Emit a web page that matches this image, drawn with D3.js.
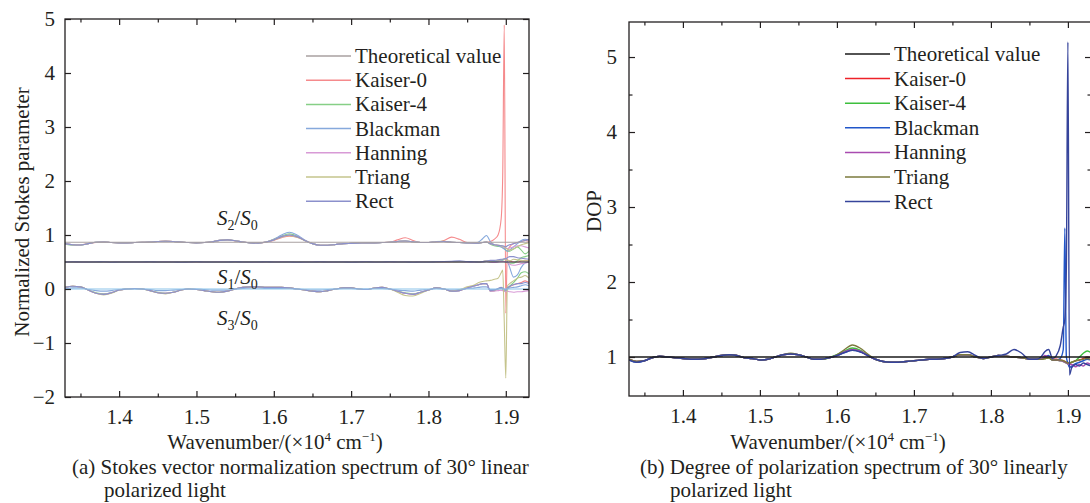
<!DOCTYPE html>
<html>
<head>
<meta charset="utf-8">
<title>Stokes normalization and DOP spectra</title>
<script src="https://cdnjs.cloudflare.com/ajax/libs/d3/7.8.5/d3.min.js"></script>
<style>
  body { margin: 0; background: #fff; }
  svg text { font-family: "Liberation Serif", "Times New Roman", serif; fill: #231f20; }
</style>
</head>
<body>
<svg id="chart" width="1090" height="503"></svg>
<script>
// wavenumber grid (x10^4 cm^-1), denser near the 1.9 resonance
var wn = [1.33,1.34,1.35,1.36,1.37,1.38,1.39,1.40,1.41,1.42,1.43,1.44,1.45,1.46,1.47,1.48,1.49,1.50,1.51,1.52,1.53,1.54,1.55,1.56,1.57,1.58,1.59,1.60,1.61,1.62,1.63,1.64,1.65,1.66,1.67,1.68,1.69,1.70,1.71,1.72,1.73,1.74,1.75,1.76,1.77,1.78,1.79,1.80,1.81,1.82,1.83,1.84,1.85,1.86,
  1.865,1.87,1.875,1.88,1.885,1.89,1.894,1.896,1.898,1.90,1.902,1.905,1.91,1.915,1.92,1.925,1.93];

var seriesNames = ["Theoretical value", "Kaiser-0", "Kaiser-4", "Blackman", "Hanning", "Triang", "Rect"];
var xTicks = [1.4, 1.5, 1.6, 1.7, 1.8, 1.9];
var xMinor = [1.35, 1.45, 1.55, 1.65, 1.75, 1.85];
var yTicksA = [-2, -1, 0, 1, 2, 3, 4, 5];
var yTicksB = [1, 2, 3, 4, 5];
var yMinorB = [1.5, 2.5, 3.5, 4.5];

// theoretical values for 30 deg linear polarization
var theoS1 = 0.5, theoS2 = 0.866, theoS3 = 0, theoDOP = 1;

// S2/S0
var s2Kaiser0 = [.84,.82,.82,.84,.86,.87,.86,.855,.855,.86, .865,.87,.88,.89,.88,.87,.86,.855,.86,.875, .90,.91,.89,.87,.855,.85,.87,.90,.95,.98, .96,.90,.84,.81,.81,.825,.84,.845,.85,.855, .855,.86,.87,.91,.95,.90,.86,.86,.87,.90, .96,.92,.86,.85,
  .85,.86,.86,.88,.92,1.0,1.3,2.1,4.89,-0.45,.70,.78,.84,.86,.88,.90,.88];
var s2Kaiser4 = [.83,.81,.81,.84,.865,.87,.86,.855,.855,.86, .865,.87,.88,.885,.88,.87,.86,.855,.86,.875, .90,.91,.895,.87,.855,.85,.87,.92,.98,1.02, .98,.90,.84,.81,.81,.825,.84,.845,.85,.855, .855,.86,.865,.88,.89,.875,.86,.86,.88,.885, .865,.86,.855,.85,
  .85,.86,.87,.83,.80,.79,.78,.77,.75,.72,.70,.70,.74,.78,.72,.65,.70];
var s2Blackman = [.84,.82,.815,.84,.865,.87,.86,.855,.855,.86, .865,.87,.88,.885,.88,.87,.86,.855,.86,.875, .90,.91,.895,.87,.855,.85,.87,.92,1.0,1.05, 1.0,.91,.84,.81,.81,.825,.84,.845,.85,.855, .855,.86,.865,.88,.89,.875,.86,.86,.875,.88, .865,.86,.855,.85,
  .87,.93,.99,.88,.82,.80,.78,.76,.74,.72,.70,.72,.78,.84,.90,.92,.90];
var s2Hanning = [.84,.82,.815,.84,.865,.87,.86,.855,.855,.86, .865,.87,.88,.885,.88,.87,.86,.855,.86,.875, .90,.91,.895,.87,.855,.85,.87,.91,.97,1.0, .97,.90,.84,.81,.81,.825,.84,.845,.85,.855, .855,.86,.865,.88,.89,.875,.86,.86,.875,.88, .865,.86,.855,.85,
  .85,.86,.87,.84,.82,.81,.80,.78,.77,.76,.75,.76,.78,.80,.80,.78,.76];
var s2Triang = [.84,.82,.815,.84,.865,.87,.86,.855,.855,.86, .865,.87,.88,.885,.88,.87,.86,.855,.86,.875, .90,.91,.895,.87,.855,.85,.87,.91,.96,.99, .96,.90,.84,.81,.81,.825,.84,.845,.85,.855, .855,.86,.865,.88,.89,.875,.86,.86,.875,.88, .865,.86,.855,.85,
  .85,.86,.87,.84,.82,.81,.80,.79,.78,.76,.74,.72,.74,.78,.82,.84,.86];
var s2Rect = [.84,.82,.815,.84,.865,.87,.86,.855,.855,.86, .865,.87,.88,.885,.88,.87,.86,.855,.86,.875, .90,.91,.895,.87,.855,.85,.87,.91,.97,1.0, .97,.90,.84,.81,.81,.825,.84,.845,.85,.855, .855,.86,.865,.88,.89,.875,.86,.86,.875,.88, .865,.86,.855,.85,
  .85,.86,.87,.84,.82,.81,.80,.80,.79,.78,.80,.82,.84,.86,.88,.90,.92];

// S1/S0
var s1Kaiser0 = [.50,.50,.505,.50,.50,.495,.50,.50,.50,.505, .50,.50,.495,.50,.50,.50,.505,.50,.50,.50, .50,.505,.50,.50,.495,.50,.50,.50,.505,.51, .505,.50,.50,.495,.50,.50,.50,.50,.505,.50, .50,.50,.50,.505,.51,.505,.50,.50,.50,.505, .51,.51,.505,.50,
  .50,.51,.52,.51,.50,.52,.53,.54,.55,.55,.54,.52,.50,.50,.52,.53,.52];
var s1Kaiser4 = [.50,.495,.50,.50,.505,.50,.50,.495,.50,.50, .505,.50,.50,.50,.495,.50,.50,.50,.505,.50, .50,.50,.495,.50,.50,.505,.50,.50,.50,.505, .50,.50,.495,.50,.50,.50,.505,.50,.50,.50, .495,.50,.50,.50,.505,.50,.50,.495,.50,.50, .505,.50,.50,.50,
  .50,.50,.51,.50,.50,.51,.52,.52,.51,.50,.49,.48,.48,.52,.58,.60,.62];
var s1Blackman = [.50,.50,.50,.495,.50,.50,.505,.50,.50,.50, .50,.495,.50,.50,.50,.505,.50,.50,.50,.495, .50,.50,.50,.505,.50,.50,.495,.50,.50,.50, .505,.50,.50,.50,.495,.50,.50,.505,.50,.50, .50,.495,.50,.50,.50,.505,.50,.50,.50,.50, .505,.51,.505,.50,
  .50,.51,.52,.52,.51,.52,.53,.54,.55,.56,.52,.40,.22,.26,.40,.48,.50];
var s1Hanning = [.50,.50,.495,.50,.50,.50,.50,.505,.50,.50, .495,.50,.50,.505,.50,.50,.50,.495,.50,.50, .505,.50,.50,.50,.50,.495,.50,.50,.505,.50, .50,.50,.505,.50,.50,.495,.50,.50,.50,.505, .50,.50,.495,.50,.50,.50,.505,.50,.50,.495, .50,.50,.50,.50,
  .50,.50,.51,.50,.49,.50,.51,.51,.51,.50,.50,.46,.44,.45,.47,.48,.50];
var s1Triang = [.505,.50,.50,.50,.495,.50,.50,.50,.505,.50, .50,.50,.50,.495,.50,.50,.505,.50,.50,.50, .495,.50,.50,.50,.505,.50,.50,.50,.495,.50, .50,.505,.50,.50,.50,.50,.495,.50,.50,.50, .505,.50,.50,.50,.495,.50,.50,.505,.50,.50, .50,.505,.51,.51,
  .50,.51,.52,.52,.52,.53,.54,.55,.55,.54,.53,.52,.55,.54,.53,.52,.52];
var s1Rect = [.50,.505,.50,.50,.50,.505,.495,.50,.50,.50, .50,.505,.50,.50,.50,.495,.50,.505,.50,.50, .50,.50,.505,.50,.50,.50,.505,.50,.50,.50, .495,.50,.50,.505,.50,.50,.50,.495,.50,.505, .50,.50,.505,.50,.50,.495,.50,.50,.505,.51, .515,.52,.51,.505,
  .50,.51,.52,.53,.53,.54,.55,.55,.56,.56,.58,.60,.60,.58,.57,.56,.55];

// S3/S0
var s3Kaiser0 = [.03,.05,.04,-.02,-.08,-.10,-.07,-.02,0,.01, 0,-.03,-.07,-.08,-.06,-.02,0,-.01,-.03,-.05, -.06,-.04,0,.03,.04,.04,.03,.03,.03,.02, 0,-.02,-.04,-.05,-.03,0,.02,.02,0,-.01, .02,.03,0,-.04,-.08,-.10,-.06,-.02,.02,0, -.04,-.03,.02,.06,
  .08,.10,.10,-.04,-.03,0,.02,0,-.03,-.05,0,.04,.08,.10,.12,.15,.12];
var s3Kaiser4 = [.03,.05,.04,-.02,-.07,-.09,-.07,-.02,0,.01, 0,-.03,-.06,-.08,-.06,-.02,0,-.01,-.03,-.05, -.06,-.04,0,.03,.04,.04,.03,.03,.03,.02, 0,-.02,-.04,-.05,-.03,0,.02,.02,0,-.01, .02,.03,0,-.04,-.07,-.09,-.06,-.02,.02,0, -.04,-.03,.02,.06,
  .08,.10,.10,-.04,-.03,0,.02,0,-.03,-.05,0,.05,.12,.20,.30,.32,.28];
var s3Blackman = [.01,.02,.02,-.01,-.03,-.04,-.03,-.01,0,0, 0,-.01,-.03,-.03,-.02,-.01,0,0,-.01,-.02, -.02,-.02,0,.01,.02,.02,.01,.01,.01,.01, 0,-.01,-.02,-.02,-.01,0,.01,.01,0,0, .01,.01,0,-.02,-.03,-.04,-.02,-.01,.01,0, -.02,-.01,.01,.02,
  .03,.04,.04,-.01,-.01,0,.01,0,-.01,-.02,0,.02,.03,.04,.06,.08,.06];
var s3Hanning = [.03,.05,.04,-.02,-.08,-.10,-.07,-.02,0,.01, 0,-.03,-.07,-.08,-.06,-.02,0,-.01,-.03,-.05, -.06,-.04,0,.03,.04,.04,.03,.03,.03,.02, 0,-.02,-.04,-.05,-.03,0,.02,.02,0,-.01, .02,.03,0,-.04,-.08,-.10,-.06,-.02,.02,0, -.04,-.03,.02,.06,
  .08,.10,.10,-.04,-.04,-.03,-.02,-.03,-.04,-.05,-.04,-.05,-.06,-.05,-.05,-.04,-.03];
var s3Triang = [.04,.05,.04,-.02,-.08,-.11,-.08,-.02,0,.01, 0,-.03,-.07,-.09,-.06,-.02,0,-.01,-.03,-.05, -.06,-.04,0,.03,.04,.04,.03,.03,.03,.02, 0,-.02,-.04,-.05,-.03,0,.02,.02,0,-.01, .02,.03,0,-.06,-.12,-.13,-.08,-.02,.02,0, -.04,-.02,.04,.08,
  .12,.14,.15,.16,.18,.20,.30,.35,-.60,-1.65,.05,.10,.15,.20,.22,.25,.20];
var s3Rect = [.03,.05,.04,-.02,-.08,-.10,-.07,-.02,0,.01, 0,-.03,-.07,-.08,-.06,-.02,0,-.01,-.03,-.05, -.06,-.04,0,.03,.04,.04,.03,.03,.03,.02, 0,-.02,-.04,-.05,-.03,0,.02,.02,0,-.01, .02,.03,0,-.04,-.08,-.10,-.06,-.02,.02,0, -.04,-.03,.02,.06,
  .08,.10,.10,-.03,-.02,.01,.03,.02,0,-.02,.02,.05,.08,.10,.10,.12,.10];

// DOP
var dopKaiser0 = [.97,.94,.95,.99,1.01,1.0,.99,.98,.97,.97, .98,1.0,1.02,1.03,1.02,.99,.98,.96,.97,1.0, 1.03,1.04,1.03,1.0,.97,.97,.99,1.02,1.07,1.1, 1.08,1.02,.97,.94,.93,.93,.94,.95,.96,.97, .97,.98,1.0,1.03,1.03,1.0,.98,1.0,1.02,1.01, 1.0,.99,.97,.97,
  .97,.98,.99,.97,.97,.96,.95,.94,.93,.92,.92,.93,.95,.96,.98,1.0,.99];
var dopKaiser4 = [.97,.94,.95,.99,1.01,1.0,.99,.98,.97,.97, .98,1.0,1.02,1.03,1.02,.99,.98,.96,.97,1.0, 1.03,1.04,1.03,1.0,.97,.97,.99,1.03,1.08,1.12, 1.09,1.02,.97,.94,.93,.93,.94,.95,.96,.97, .97,.98,1.0,1.03,1.03,1.0,.98,1.0,1.02,1.01, 1.0,.99,.97,.97,
  .97,.98,.99,.96,.96,.95,.94,.93,.92,.91,.92,.93,.95,1.0,1.05,1.08,1.06];
var dopBlackman = [.96,.93,.95,.99,1.01,1.0,.99,.98,.97,.97, .98,1.0,1.02,1.03,1.02,.99,.98,.96,.97,1.0, 1.03,1.04,1.03,1.0,.97,.97,.99,1.02,1.06,1.09, 1.07,1.02,.97,.94,.93,.93,.94,.95,.96,.97, .97,.98,1.0,1.03,1.03,1.0,.98,1.0,1.02,1.01, 1.0,.99,.97,.97,
  .97,1.0,1.02,.96,.96,.98,1.1,2.72,1.0,.92,.86,.88,.91,.93,.95,.97,.96];
var dopHanning = [.97,.94,.95,.99,1.01,1.0,.99,.98,.97,.97, .98,1.0,1.02,1.03,1.02,.99,.98,.96,.97,1.0, 1.03,1.04,1.03,1.0,.97,.97,.99,1.02,1.07,1.1, 1.08,1.02,.97,.94,.93,.93,.94,.95,.96,.97, .97,.98,1.0,1.03,1.03,1.0,.98,1.0,1.02,1.01, 1.0,.99,.97,.97,
  .97,1.02,1.0,.96,.96,.95,.94,.93,.92,.91,.90,.90,.87,.90,.88,.92,.90];
var dopTriang = [.97,.94,.95,.99,1.01,1.0,.99,.98,.97,.97, .98,1.0,1.02,1.03,1.02,.99,.98,.96,.97,1.0, 1.03,1.05,1.03,1.0,.97,.97,.99,1.03,1.10,1.16, 1.12,1.04,.97,.94,.93,.93,.94,.95,.96,.97, .97,.98,1.0,1.03,1.03,1.0,.98,1.0,1.02,1.01, 1.0,.99,.97,.97,
  .97,.98,.99,.96,.96,.96,.95,.94,.93,.92,.92,.93,.95,.96,.97,.98,.97];
var dopRect = [.96,.93,.95,.99,1.01,1.0,.99,.98,.97,.97, .98,1.0,1.02,1.03,1.02,.99,.98,.96,.97,1.0, 1.03,1.04,1.03,1.0,.97,.97,.99,1.02,1.06,1.09, 1.07,1.02,.97,.94,.93,.93,.94,.95,.96,.97, .97,.98,1.0,1.06,1.07,1.02,.98,1.0,1.02,1.04, 1.10,1.05,.97,.97,
  1.0,1.07,1.1,.98,1.02,1.15,1.4,1.5,2.2,5.2,.76,.86,.90,.88,.92,.90,.88];

var colorsA = ["#a8a0a0", "#f58a8c", "#86cf86", "#86a9dc", "#d89ad6", "#c5c48c", "#8b90cc"];
var colorsB = ["#1a1a1a", "#ee2229", "#3dbf3d", "#2156c9", "#a94bb0", "#7b7a3c", "#36449b"];

var svg = d3.select("#chart");
svg.append("rect").attr("width", 1090).attr("height", 503).attr("fill", "#fff");
var defs = svg.append("defs");

function drawPanel(cfg) {
    var x = d3.scaleLinear().domain([1.33, 1.93]).range([cfg.x0, cfg.x1]);
    var y = d3.scaleLinear().domain(cfg.yDomain).range([cfg.y1, cfg.y0]);
    var g = svg.append("g").style("color", "#231f20");

    defs.append("clipPath").attr("id", cfg.id)
        .append("rect")
        .attr("x", cfg.x0).attr("y", cfg.y0)
        .attr("width", cfg.x1 - cfg.x0).attr("height", cfg.y1 - cfg.y0);

    var plot = g.append("g").attr("clip-path", "url(#" + cfg.id + ")");
    var line = d3.line()
        .x(function (d, i) { return x(wn[i]); })
        .y(function (d) { return y(d); })
        .curve(d3.curveMonotoneX);
    var flat = d3.line().x(function (d) { return x(d[0]); }).y(function (d) { return y(d[1]); });

    cfg.groups.forEach(function (grp) {
        grp.series.forEach(function (s, k) {
            plot.append("path").datum(s)
                .attr("d", line)
                .attr("fill", "none")
                .attr("stroke", cfg.colors[k + 1])
                .attr("stroke-width", cfg.lw);
        });
        plot.append("path").datum([[1.33, grp.theo], [1.93, grp.theo]])
            .attr("d", flat)
            .attr("fill", "none")
            .attr("stroke", grp.theoColor || cfg.colors[0])
            .attr("stroke-width", cfg.lw);
    });

    // axes, ticks pointing inward
    function styleAxis(sel) {
        sel.select(".domain").remove();
        sel.attr("font-size", null).attr("font-family", null);
        sel.selectAll("text").style("font-size", "21px");
        sel.selectAll("line").attr("stroke-width", 1.2);
    }
    g.append("g").attr("transform", "translate(0," + cfg.y1 + ")")
        .call(d3.axisBottom(x).tickValues(xTicks).tickSize(-6).tickPadding(12).tickFormat(d3.format(".1f")))
        .call(styleAxis);
    g.append("g").attr("transform", "translate(0," + cfg.y1 + ")")
        .call(d3.axisBottom(x).tickValues(xMinor).tickSize(-3.5).tickFormat(""))
        .call(styleAxis);
    g.append("g").attr("transform", "translate(0," + cfg.y0 + ")")
        .call(d3.axisTop(x).tickValues(xTicks).tickSize(-6).tickFormat(""))
        .call(styleAxis);
    g.append("g").attr("transform", "translate(0," + cfg.y0 + ")")
        .call(d3.axisTop(x).tickValues(xMinor).tickSize(-3.5).tickFormat(""))
        .call(styleAxis);
    g.append("g").attr("transform", "translate(" + cfg.x0 + ",0)")
        .call(d3.axisLeft(y).tickValues(cfg.yTicks).tickSize(-6).tickPadding(cfg.yPad).tickFormat(d3.format("d")))
        .call(styleAxis);
    g.append("g").attr("transform", "translate(" + cfg.x1 + ",0)")
        .call(d3.axisRight(y).tickValues(cfg.yTicks).tickSize(-6).tickFormat(""))
        .call(styleAxis);
    if (cfg.yMinor) {
        g.append("g").attr("transform", "translate(" + cfg.x0 + ",0)")
            .call(d3.axisLeft(y).tickValues(cfg.yMinor).tickSize(-3.5).tickFormat(""))
            .call(styleAxis);
        g.append("g").attr("transform", "translate(" + cfg.x1 + ",0)")
            .call(d3.axisRight(y).tickValues(cfg.yMinor).tickSize(-3.5).tickFormat(""))
            .call(styleAxis);
    }
    g.append("rect")
        .attr("x", cfg.x0).attr("y", cfg.y0)
        .attr("width", cfg.x1 - cfg.x0).attr("height", cfg.y1 - cfg.y0)
        .attr("fill", "none").attr("stroke", "#231f20").attr("stroke-width", 1.3);

    // legend
    seriesNames.forEach(function (name, i) {
        var ly = cfg.legY + i * cfg.legStep;
        g.append("line")
            .attr("x1", cfg.legX).attr("x2", cfg.legX + 45)
            .attr("y1", ly).attr("y2", ly)
            .attr("stroke", cfg.colors[i]).attr("stroke-width", 1.5);
        g.append("text")
            .attr("x", cfg.legX + 49).attr("y", ly + 7)
            .attr("font-size", 21)
            .text(name);
    });

    // x title
    var t = g.append("text")
        .attr("x", cfg.titleX).attr("y", 449)
        .attr("text-anchor", "middle").attr("font-size", 21);
    t.append("tspan").text("Wavenumber/(×10");
    t.append("tspan").attr("dy", -8).attr("font-size", 13).text("4");
    t.append("tspan").attr("dy", 8).text(" cm");
    t.append("tspan").attr("dy", -8).attr("font-size", 13).text("−1");
    t.append("tspan").attr("dy", 8).text(")");

    // y title
    g.append("text")
        .attr("transform", "translate(" + cfg.yTitleX + "," + cfg.yTitleY + ") rotate(-90)")
        .attr("text-anchor", "middle").attr("font-size", 21)
        .text(cfg.yTitle);

    // caption
    g.append("text").attr("x", cfg.capX).attr("y", 474).attr("font-size", 21).text(cfg.caption[0]);
    g.append("text").attr("x", cfg.capX2).attr("y", 497).attr("font-size", 21).text(cfg.caption[1]);

    return { x: x, y: y, g: g };
}

var left = drawPanel({
    id: "clipA", x0: 65, x1: 529, y0: 19, y1: 397, yDomain: [-2, 5],
    yTicks: yTicksA, yPad: 10, lw: 1.1, colors: colorsA,
    groups: [
        { series: [s2Kaiser0, s2Kaiser4, s2Blackman, s2Hanning, s2Triang, s2Rect], theo: theoS2 },
        { series: [s1Kaiser0, s1Kaiser4, s1Blackman, s1Hanning, s1Triang, s1Rect], theo: theoS1, theoColor: "#2b2b3b" },
        { series: [s3Kaiser0, s3Kaiser4, s3Blackman, s3Hanning, s3Triang, s3Rect], theo: theoS3, theoColor: "#8cc4ea" }
    ],
    legX: 306, legY: 56, legStep: 24.2,
    titleX: 275, yTitleX: 29, yTitleY: 212, yTitle: "Normalized Stokes parameter",
    capX: 72, capX2: 104,
    caption: ["(a) Stokes vector normalization spectrum of 30° linear", "polarized light"]
});

var right = drawPanel({
    id: "clipB", x0: 629, x1: 1091, y0: 22, y1: 396, yDomain: [0.48, 5.467],
    yTicks: yTicksB, yMinor: yMinorB, yPad: 12, lw: 1.4, colors: colorsB,
    groups: [
        { series: [dopKaiser0, dopKaiser4, dopBlackman, dopHanning, dopTriang, dopRect], theo: theoDOP }
    ],
    legX: 845, legY: 54, legStep: 24.6,
    titleX: 838, yTitleX: 601, yTitleY: 211, yTitle: "DOP",
    capX: 640, capX2: 670,
    caption: ["(b) Degree of polarization spectrum of 30° linearly", "polarized light"]
});

// S labels on the left panel
function sLabel(xp, yp, n) {
    var t = left.g.append("text").attr("x", xp).attr("y", yp).attr("font-size", 21);
    t.append("tspan").attr("font-style", "italic").text("S");
    t.append("tspan").attr("dy", 5).attr("font-size", 14).text(n);
    t.append("tspan").attr("dy", -5).text("/");
    t.append("tspan").attr("font-style", "italic").text("S");
    t.append("tspan").attr("dy", 5).attr("font-size", 14).text("0");
}
sLabel(217, 225, "2");
sLabel(217, 284, "1");
sLabel(217, 325, "3");
</script>
</body>
</html>
